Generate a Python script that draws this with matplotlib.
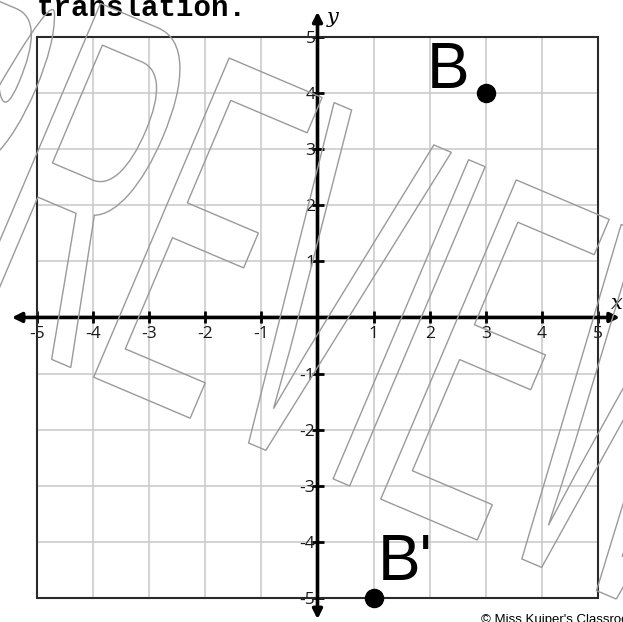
import numpy as np
import matplotlib
matplotlib.use("Agg")
from matplotlib import pyplot as plt
from matplotlib.patches import Rectangle, PathPatch
from matplotlib.textpath import TextPath
from matplotlib.font_manager import FontProperties
from matplotlib.transforms import Affine2D, IdentityTransform

# data
ticks = [-5, -4, -3, -2, -1, 1, 2, 3, 4, 5]
grid_lines = [-5, -4, -3, -2, -1, 0, 1, 2, 3, 4, 5]
points_x = [3, 1]
points_y = [4, -5]
point_names = ["B", "B'"]
label_x = [1.95, 1.07]
label_y = [4.09, -4.68]

W, H = 623, 622
fig = plt.figure(figsize=(W / 100, H / 100), dpi=100)
ax = fig.add_axes([0, 0, 1, 1])
ax.set_xlim(-5.66, 5.446)
ax.set_ylim(-5.43, 5.66)

# grid inside the box only
ax.vlines(grid_lines, -5, 5, color="#c8c8c8", lw=1.1, zorder=1)
ax.hlines(grid_lines, -5, 5, color="#c8c8c8", lw=1.1, zorder=1)
ax.add_patch(Rectangle((-5, -5), 10, 10, fill=False, ec="#2a2a2a", lw=1.5, zorder=2))

# axes through the origin
for s in ["top", "right", "left", "bottom"]:
    ax.spines[s].set_visible(False)
ax.spines["left"].set_position("zero")
ax.spines["bottom"].set_position("zero")
ax.set_xticks(ticks)
ax.set_yticks(ticks)
ax.set_xticklabels([str(t) for t in ticks])
ax.set_yticklabels([str(t) for t in ticks])
ax.tick_params(axis="both", direction="inout", length=9, width=2, color="black",
               labelsize=12.5, labelcolor="#1a1a1a")
ax.tick_params(axis="x", pad=2)
ax.tick_params(axis="y", pad=-3)
for lab in ax.get_xticklabels() + ax.get_yticklabels():
    lab.set_fontfamily("Open Sans")

arrow = dict(arrowstyle="<|-|>", lw=2.6, color="black", mutation_scale=14,
             shrinkA=0, shrinkB=0)
ax.annotate("", xy=(5.39, 0), xytext=(-5.45, 0), arrowprops=arrow, zorder=3)
ax.annotate("", xy=(0, 5.45), xytext=(0, -5.38), arrowprops=arrow, zorder=3)
ax.text(5.44, 0.08, "x", fontsize=15, style="italic", family="DejaVu Serif",
        ha="right", va="bottom")
ax.text(0.16, 5.17, "y", fontsize=15, style="italic", family="DejaVu Serif",
        ha="left", va="bottom")

ax.plot(points_x, points_y, "o", color="black", ms=13, zorder=5)
for name, lx, ly in zip(point_names, label_x, label_y):
    ax.text(lx, ly, name, fontsize=46, family="Liberation Sans", ha="left",
            va="baseline", zorder=5)

fig.text(37 / W, 1 - 16 / H, "translation.", fontsize=21, family="Liberation Mono",
         weight="bold", ha="left", va="baseline")
fig.text(481 / W, 1 - 614 / H, "\u00a9 Miss Kuiper's Classroom", fontsize=9.5,
         family="Liberation Sans", ha="left", va="top")

# PREVIEW watermark, outlined, squeezed and tilted
prop = FontProperties(family="Liberation Sans")
tp = TextPath((0, 0), "PREVIEW", size=1, prop=prop)
ang = 23.0
sx, sy = 193.5, 504.0
e_origin = np.array([79.0, 371.0])   # image pixels of the first E
shift = 1.389 * sx
ox = e_origin[0] - shift * np.cos(np.radians(ang))
oy = e_origin[1] - shift * np.sin(np.radians(ang))
tr = Affine2D().scale(sx, sy).rotate_deg(-ang).translate(ox, H - oy)
wm = PathPatch(tr.transform_path(tp), transform=IdentityTransform(), fill=False,
               ec="#9a9a9a", lw=1.0, zorder=10)
fig.add_artist(wm)

fig.savefig("out.png", dpi=100)
